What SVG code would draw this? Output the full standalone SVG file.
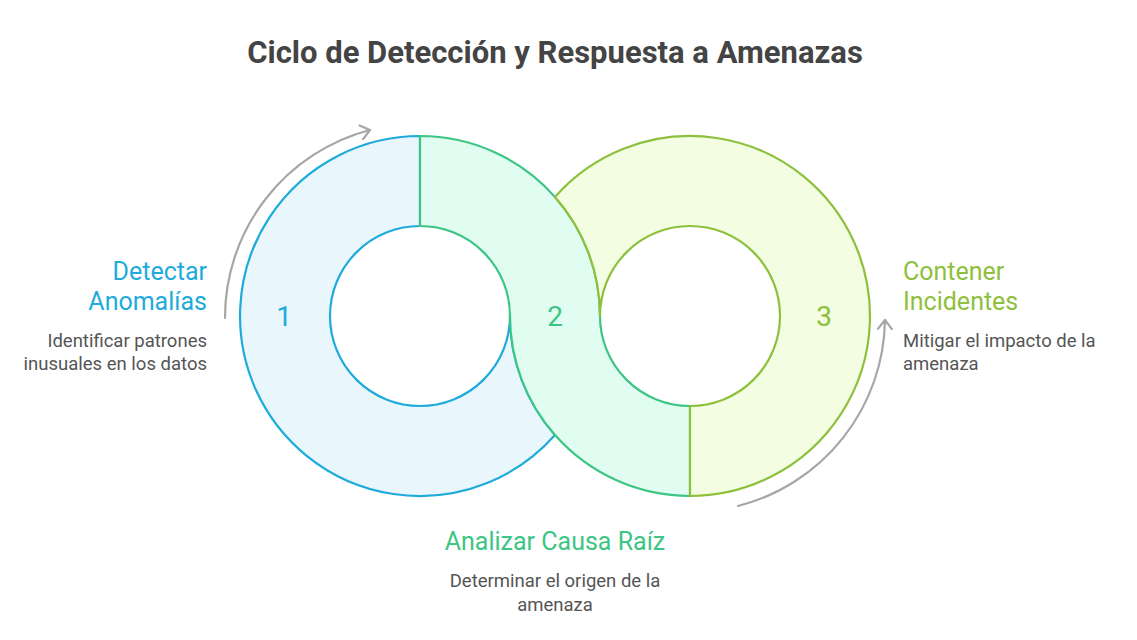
<svg xmlns="http://www.w3.org/2000/svg" width="1137" height="640" viewBox="0 0 1137 640">
<defs>
<style>
.seg{stroke-width:2.2;stroke-linejoin:round}
.num{font-family:Roboto,"Liberation Sans",sans-serif;font-size:28px;text-anchor:middle;dominant-baseline:central}
.lbl{font-family:Roboto,"Liberation Sans",sans-serif;font-size:25px}
.desc{font-family:Roboto,"Liberation Sans",sans-serif;font-size:18.5px;fill:#555555}
.arrow{fill:none;stroke:#A6A6A6;stroke-width:2.2;stroke-linecap:round}
</style>
<marker id="chev" viewBox="0 0 12 16" refX="10" refY="8" markerWidth="12" markerHeight="16" markerUnits="userSpaceOnUse" orient="auto">
<path d="M1,1 L10,8 L1,15" fill="none" stroke="#A6A6A6" stroke-width="2.2" stroke-linecap="round" stroke-linejoin="round"/>
</marker>
</defs>
<rect width="1137" height="640" fill="#FFFFFF"/>
<text x="555" y="63" text-anchor="middle" font-family="Roboto,'Liberation Sans',sans-serif" font-size="31" font-weight="bold" fill="#444444">Ciclo de Detección y Respuesta a Amenazas</text>

<g id="node1">
<path class="seg" fill="#E9F7FD" stroke="#1EABDC" d="M420,136 A180,180 0 1,0 555,435.1 A180,180 0 0,1 510,316 A90,90 0 1,1 420,226 Z"/>
<text class="num" x="284" y="316" fill="#1EABDC">1</text>
<text class="lbl" x="207" y="280" text-anchor="end" fill="#1EABDC">Detectar</text>
<text class="lbl" x="207" y="310" text-anchor="end" fill="#1EABDC">Anomalías</text>
<text class="desc" x="207" y="347" text-anchor="end">Identificar patrones</text>
<text class="desc" x="207" y="370" text-anchor="end">inusuales en los datos</text>
</g>

<g id="node2">
<path class="seg" fill="#E1FCF0" stroke="#3CC584" d="M420,136 A180,180 0 0,1 555,196.9 A180,180 0 0,1 600,316 A90,90 0 0,0 690,406 L690,496 A180,180 0 0,1 555,435.1 A180,180 0 0,1 510,316 A90,90 0 0,0 420,226 Z"/>
<text class="num" x="555" y="316" fill="#3CC584">2</text>
<text class="lbl" x="555" y="550" text-anchor="middle" fill="#3CC584">Analizar Causa Raíz</text>
<text class="desc" x="555" y="587" text-anchor="middle">Determinar el origen de la</text>
<text class="desc" x="555" y="611" text-anchor="middle">amenaza</text>
</g>

<g id="node3">
<path class="seg" fill="#F3FDE1" stroke="#8DC03C" d="M690,406 L690,496 A180,180 0 1,0 555,196.9 A180,180 0 0,1 600,316 A90,90 0 1,1 690,406 Z"/>
<text class="num" x="824" y="316" fill="#8DC03C">3</text>
<text class="lbl" x="903" y="280" fill="#8DC03C">Contener</text>
<text class="lbl" x="903" y="310" fill="#8DC03C">Incidentes</text>
<text class="desc" x="903" y="347">Mitigar el impacto de la</text>
<text class="desc" x="903" y="370">amenaza</text>
</g>

<g id="connectors">
<path class="arrow" d="M225,318 A194,194 0 0,1 370,130" marker-end="url(#chev)"/>
<path class="arrow" d="M738,506 A195,195 0 0,0 885,320" marker-end="url(#chev)"/>
</g>
</svg>
